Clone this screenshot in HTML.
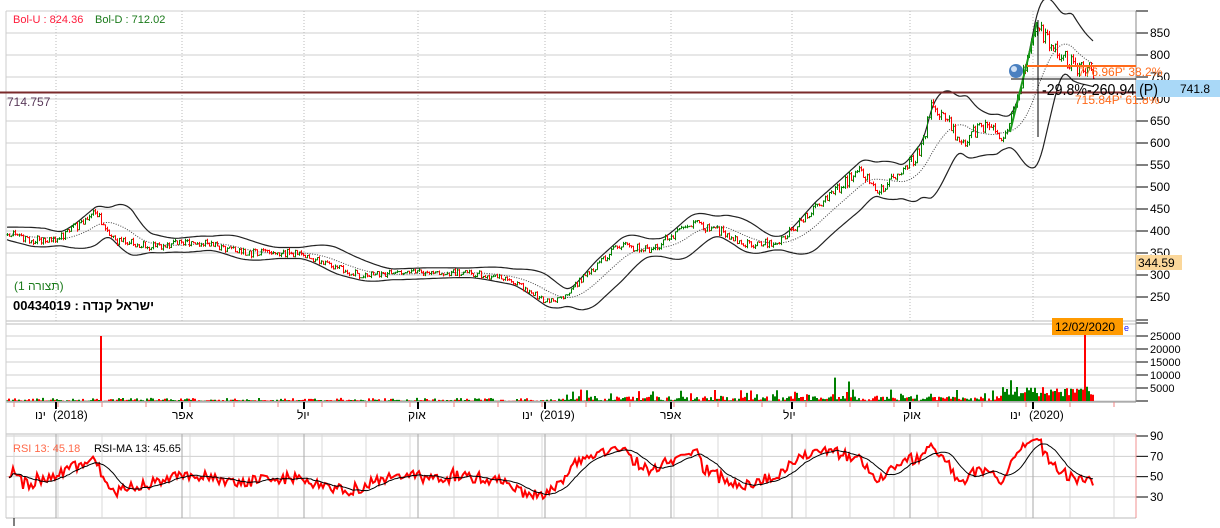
<!DOCTYPE html>
<html><head><meta charset="utf-8"><style>
body{margin:0;background:#fff;width:1220px;height:528px;overflow:hidden;font-family:"Liberation Sans","Noto Sans CJK SC",sans-serif}
svg{display:block}
text{font-family:"Liberation Sans","Noto Sans CJK SC",sans-serif}
</style></head><body>
<svg id="s" width="1220" height="528" xmlns="http://www.w3.org/2000/svg">
<rect width="1220" height="528" fill="#fff"/>
<g id="grid"></g>
<g id="bands"></g>
<g id="bars"></g>
<g id="vol"></g>
<g id="rsi"></g>
<g id="axes"></g>
<line x1="0" y1="92.5" x2="1136" y2="92.5" stroke="#7a2a2a" stroke-width="2"/>
<text x="7" y="106" font-size="12" fill="#5a3a5a">714.757</text>
<text x="13" y="23" font-size="11" fill="#ff1a3a">Bol-U : 824.36</text>
<text x="95" y="23" font-size="11" fill="#1a7a1a">Bol-D : 712.02</text>
<text x="14" y="290" font-size="12" fill="#1a7a1a">(תצורה 1)</text>
<text x="13" y="310" font-size="13" fill="#000" font-weight="bold">00434019 : ישראל קנדה</text>
<line x1="1010" y1="132" x2="1037" y2="22" stroke="#1a9a1a" stroke-width="2"/>
<line x1="1038" y1="20" x2="1038" y2="137" stroke="#000" stroke-width="1"/>
<line x1="1027" y1="66" x2="1136" y2="66" stroke="#ff6a1a" stroke-width="2"/>
<line x1="1011" y1="79" x2="1136" y2="79" stroke="#000" stroke-width="1"/>
<circle cx="1016" cy="71" r="7" fill="#4a80c0"/><circle cx="1014" cy="69" r="3" fill="#cfe0f5"/>
<text x="1078" y="76" font-size="12" fill="#ff6a1a">776.96P' 38.2%</text>
<text x="1075" y="104" font-size="12" fill="#ff6a1a">715.84P' 61.8%</text>
<rect x="1136" y="80" width="84" height="17" fill="#a9d8f7"/>
<text x="1180" y="93" font-size="12" fill="#000">741.8</text>
<text x="1042" y="95" font-size="16" fill="#000" textLength="116" lengthAdjust="spacingAndGlyphs">-29.8%-260.94 (P)</text>
<rect x="1136" y="255" width="46" height="15" fill="#fbd79a"/>
<text x="1138" y="267" font-size="12" fill="#000">344.59</text>
<rect x="1052" y="318" width="71" height="17" fill="#ff9a00"/>
<text x="1055" y="331" font-size="12" fill="#000">12/02/2020</text>
<text x="1124" y="331" font-size="9" fill="#1a1aff">e</text>
<text x="13" y="452" font-size="11" fill="#ff6a4a">RSI 13: 45.18</text>
<text x="94" y="452" font-size="11" fill="#000">RSI-MA 13: 45.65</text>
</svg>
<script>
(function(){
var NS="http://www.w3.org/2000/svg";
function el(p,t,a){var e=document.createElementNS(NS,t);for(var k in a)e.setAttribute(k,a[k]);p.appendChild(e);return e;}
var s=1234567;function rnd(){s^=s<<13;s^=s>>>17;s^=s<<5;return ((s>>>0)%100000)/100000;}
var X0=7,XR=1136;
function py(p){return 33+(850-p)*0.44;}
var kp=[[6,395],[30,380],[60,385],[95,440],[115,380],[150,365],[200,375],[240,350],[300,350],[330,320],[360,300],[420,305],[470,305],[510,290],[545,240],[560,245],[590,310],[620,370],[650,355],[690,420],[720,400],[740,370],[780,375],[800,420],[830,480],[860,540],[880,490],[900,530],[920,580],[930,680],[950,640],[960,590],[980,640],[1005,610],[1015,680],[1035,870],[1050,820],[1070,780],[1093,760]];
function base(x){for(var i=0;i<kp.length-1;i++){if(x<=kp[i+1][0]){var t=(x-kp[i][0])/(kp[i+1][0]-kp[i][0]);return kp[i][1]+t*(kp[i+1][1]-kp[i][1]);}}return 760;}
var N=544,C=[],xs=[];
for(var i=0;i<N;i++){var x=X0+i*2;xs.push(x);var b=base(x);C.push(b*(1+(rnd()-0.5)*0.05));}
var g=document.getElementById("grid"),ax=document.getElementById("axes");
for(var p=250;p<=850;p+=50){var y=py(p);el(g,"line",{x1:6,y1:y,x2:XR,y2:y,stroke:"#cfcfcf"});el(ax,"line",{x1:XR,y1:y,x2:XR+12,y2:y,stroke:"#000"});var t=el(ax,"text",{x:XR+14,y:y+4,"font-size":12,fill:"#000"});t.textContent=p;}
el(ax,"line",{x1:XR,y1:11,x2:XR+12,y2:11,stroke:"#000"});
el(g,"line",{x1:6,y1:11,x2:XR,y2:11,stroke:"#cfcfcf"});
el(g,"line",{x1:6,y1:321,x2:XR,y2:321,stroke:"#bbb"});
el(g,"line",{x1:6,y1:324,x2:XR,y2:324,stroke:"#bbb"});
var vx=[56,182,304,418,545,671,792,910,1033];
vx.forEach(function(x){el(g,"line",{x1:x,y1:11,x2:x,y2:321,stroke:"#bbb","stroke-dasharray":"1,2"});});
function vy(v){return 401-v*13/5000;}
for(var v=0;v<=25000;v+=5000){var y=vy(v);el(g,"line",{x1:6,y1:y,x2:XR,y2:y,stroke:"#cfcfcf"});if(v>0){el(ax,"line",{x1:XR,y1:y,x2:XR+12,y2:y,stroke:"#000"});var t=el(ax,"text",{x:XR+14,y:y+4,"font-size":11,fill:"#000"});t.textContent=v;}}
el(ax,"line",{x1:6,y1:402,x2:XR,y2:402,stroke:"#888"});
el(ax,"line",{x1:XR,y1:401,x2:XR+12,y2:401,stroke:"#000"});
el(ax,"line",{x1:XR,y1:320,x2:XR+12,y2:320,stroke:"#000"});
el(ax,"line",{x1:XR,y1:323,x2:XR+12,y2:323,stroke:"#000"});
for(var x=14;x<1136;x+=44){el(ax,"line",{x1:x,y1:402,x2:x,y2:407,stroke:"#f08080"});}
vx.forEach(function(x){el(ax,"line",{x1:x,y1:402,x2:x,y2:409,stroke:"#000","stroke-width":2});});
var lbl=[[35,"ינו",53,"(2018)"],[172,"אפר"],[297,"יול"],[408,"אוק"],[522,"ינו",540,"(2019)"],[660,"אפר"],[783,"יול"],[903,"אוק"],[1010,"ינו",1029,"(2020)"]];
lbl.forEach(function(l){var t=el(ax,"text",{x:l[0],y:419,"font-size":12,fill:"#000"});t.textContent=l[1];if(l[2]){var t2=el(ax,"text",{x:l[2],y:419,"font-size":12,fill:"#000"});t2.textContent=l[3];}});
el(ax,"line",{x1:XR,y1:11,x2:XR,y2:402,stroke:"#888"});
function ry(r){return 436+(90-r)*61/60;}
el(g,"line",{x1:6,y1:434,x2:XR,y2:434,stroke:"#bbb"});
for(var r=30;r<=90;r+=20){var y=ry(r);el(g,"line",{x1:6,y1:y,x2:XR,y2:y,stroke:"#cfcfcf"});el(ax,"line",{x1:XR,y1:y,x2:XR+12,y2:y,stroke:"#000"});var t=el(ax,"text",{x:XR+14,y:y+4,"font-size":12,fill:"#000"});t.textContent=r;}
el(g,"line",{x1:6,y1:518,x2:XR,y2:518,stroke:"#bbb"});
for(var x=14;x<1136;x+=44){el(g,"line",{x1:x,y1:434,x2:x,y2:518,stroke:"#d8d8d8"});}
vx.forEach(function(x){el(g,"line",{x1:x,y1:434,x2:x,y2:518,stroke:"#aaa"});});
el(ax,"line",{x1:XR,y1:434,x2:XR,y2:518,stroke:"#f09090"});
el(ax,"line",{x1:6,y1:11,x2:6,y2:518,stroke:"#ccc"});
el(ax,"line",{x1:14,y1:518,x2:14,y2:526,stroke:"#000"});
var gb=document.getElementById("bars"),pr="",pg="";
for(var i=0;i<N;i++){var c=C[i],o=i?C[i-1]:c,h=Math.max(o,c)*(1+rnd()*0.012),l=Math.min(o,c)*(1-rnd()*0.012),x=xs[i]+0.5;
var d="M"+x+" "+py(h).toFixed(1)+"V"+py(l).toFixed(1)+"M"+(x-1)+" "+py(o).toFixed(1)+"h1M"+x+" "+py(c).toFixed(1)+"h1";
if(c>=o)pg+=d;else pr+=d;}
el(gb,"path",{d:pr,stroke:"#ff0000","stroke-width":1,fill:"none"});
el(gb,"path",{d:pg,stroke:"#008000","stroke-width":1,fill:"none"});
var gbd=document.getElementById("bands"),u="",lo="",m="",W=20;
for(var i=0;i<N;i++){var a=Math.max(0,i-W+1),sm=0,n=0;for(var j=a;j<=i;j++){sm+=base(xs[j]);n++;}var mu=sm/n,sd=0;for(var j=a;j<=i;j++){sd+=Math.pow(base(xs[j])-mu,2);}sd=Math.sqrt(sd/n)*0.8+mu*0.018;
var x=xs[i];u+=(i?"L":"M")+x+" "+py(mu+2*sd).toFixed(1);lo+=(i?"L":"M")+x+" "+py(mu-2*sd).toFixed(1);m+=(i?"L":"M")+x+" "+py(mu).toFixed(1);}
el(gbd,"path",{d:u,stroke:"#222","stroke-width":1.2,fill:"none"});
el(gbd,"path",{d:lo,stroke:"#222","stroke-width":1.2,fill:"none"});
el(gbd,"path",{d:m,stroke:"#444","stroke-width":1,fill:"none","stroke-dasharray":"1,1.5"});
var gv=document.getElementById("vol"),vr="",vg="";
for(var i=0;i<N;i++){var x=xs[i];var v;
if(x<560)v=rnd()<0.5?rnd()*500:rnd()*1200;else if(x<1000)v=rnd()*3000*(rnd()<0.3?1.5:0.6);else v=1500+rnd()*4000;
if(Math.abs(x-101)<1)v=25000;if(Math.abs(x-835)<1)v=9000;if(Math.abs(x-849)<1)v=7500;if(Math.abs(x-1085)<1)v=25500;if(Math.abs(x-1011)<1)v=8000;
var d="M"+x+" 401V"+vy(v).toFixed(1);if(C[i]>=(i?C[i-1]:0))vg+=d;else vr+=d;}
el(gv,"path",{d:vr,stroke:"#ff0000","stroke-width":2});
el(gv,"path",{d:vg,stroke:"#008000","stroke-width":2});
var R=[],ag=0.5,al=0.45,n=13;
for(var i=1;i<N;i++){var ch=(C[i]-C[i-1])/C[i-1]*100;var gn=Math.max(ch,0),ls=Math.max(-ch,0);ag=(ag*(n-1)+gn)/n;al=(al*(n-1)+ls)/n;R.push(al==0?100:100-100/(1+ag/al));}
var rp="",mp="";
for(var i=0;i<R.length;i++){var r=Math.max(20,Math.min(88,R[i]));var x=xs[i+1];rp+=(i?"L":"M")+x+" "+ry(r).toFixed(1);
var a=Math.max(0,i-12),sm=0;for(var j=a;j<=i;j++)sm+=Math.max(20,Math.min(88,R[j]));mp+=(i?"L":"M")+x+" "+ry(sm/(i-a+1)).toFixed(1);}
var gr=document.getElementById("rsi");
el(gr,"path",{d:rp,stroke:"#ff0000","stroke-width":2,fill:"none"});
el(gr,"path",{d:mp,stroke:"#000","stroke-width":1,fill:"none"});
})();
</script>
</body></html>
